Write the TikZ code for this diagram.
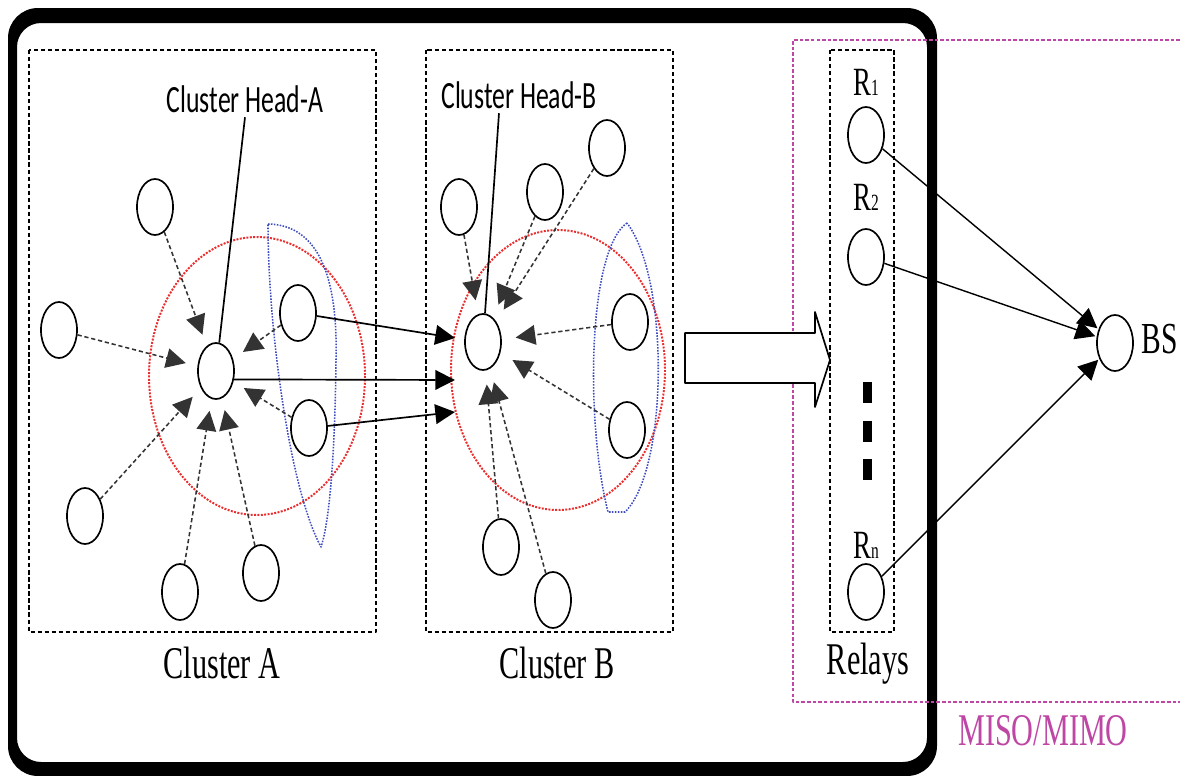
\documentclass[tikz,border=0pt]{standalone}
\usepackage{fontspec}
\setmainfont{Liberation Serif}
\newfontfamily\calibri{Carlito}
\usepackage{graphicx}
\usetikzlibrary{arrows.meta,shapes.geometric}
\definecolor{misoc}{RGB}{190,70,165}
\definecolor{covred}{RGB}{235,45,45}
\definecolor{covblue}{RGB}{60,75,190}
\newcommand{\tallt}[1]{\scalebox{1}[1.5]{#1}}
\newcommand{\rsub}[1]{{\fontsize{11}{11}\selectfont #1}}
\tikzset{
  sensor/.style={draw,ellipse,fill=white,line width=1.2pt,inner sep=0pt,minimum width=0.9cm,minimum height=1.4cm},
  clusterbox/.style={densely dashed,line width=1pt},
  reddot/.style={covred,densely dotted,line width=1.4pt},
  bluedot/.style={covblue,densely dotted,line width=1.1pt},
  member/.style={->,black!80,line width=1.1pt,dash pattern=on 3pt off 2pt},
  link/.style={->,line width=1.2pt},
  serif/.style={anchor=base,font=\fontsize{21.5}{24}\selectfont},
  callout/.style={anchor=base,font=\calibri\fontsize{18.3}{20}\selectfont}
}
\begin{document}
\begin{tikzpicture}[x=0.025cm,y=-0.025cm,line join=round,>={Triangle[length=14pt,width=14pt]}]
\useasboundingbox (0,0) rectangle (1180,776);
% thick outer frame
\fill[even odd rule] [rounded corners=0.75cm] (8,8) rectangle (937,776) [rounded corners=0.6cm] (17,23) rectangle (927,762);
% boxes
\draw[clusterbox] (29,50) rectangle (376,632);
\draw[clusterbox] (426,50) rectangle (673,632);
\draw[clusterbox] (830,50) rectangle (894,632);
\draw[misoc,line width=1pt,dash pattern=on 2.5pt off 1.5pt] (1180,40) -- (793,40) -- (793,702) -- (1180,702);
% coverage areas
\draw[reddot] (257,376) ellipse [x radius=108,y radius=139];
\draw[reddot] (558,370) ellipse [x radius=107,y radius=140];
\draw[bluedot] (268,224) .. controls (320,225) and (338,280) .. (336,360) .. controls (335,450) and (330,520) .. (321,547) .. controls (290,490) and (268,330) .. (268,224);
\draw[bluedot] (627,223) .. controls (588,250) and (585,420) .. (608,512) -- (625,512) .. controls (668,470) and (670,280) .. (627,223);
% sensors
\foreach \n/\x/\y in {CHA/216/371,A1/155/207,A2/59/330,A3/298/313,A4/309/428,A5/85/516,A6/180/592,A7/261/573,
  CHB/483/342,B1/459/207,B2/545/192,B3/607/148,B4/630/322,B5/627/430,B6/501/547,B7/553/600,
  R1/866/135,R2/866/257,Rn/866/592,BS/1115/343}
  \node[sensor] (\n) at (\x,\y) {};
% labels
\node[callout] (lblA) at (245,112) {\tallt{Cluster Head-A}};
\node[callout] (lblB) at (519,108) {\tallt{Cluster Head-B}};
\draw[line width=1.2pt] (lblA.south) -- (CHA);
\draw[line width=1.2pt] ([xshift=-0.5cm]lblB.south) -- (CHB);
\node[serif] (capA) at (222,678) {\tallt{Cluster A}};
\node[serif] (capB) at (557,678) {\tallt{Cluster B}};
\node[serif] (capR) at (868,674) {\tallt{Relays}};
\node[serif,text=misoc] (capM) at (1043,745) {\tallt{MISO/MIMO}};
\node[serif,font=\fontsize{21}{24}\selectfont] (capBS) at (1160,353) {\tallt{BS}};
\foreach \n/\t/\y in {l1/1/95,l2/2/210,ln/n/558}
  \node[serif,font=\fontsize{19}{22}\selectfont] (\n) at (866,\y) {\tallt{R\rsub{\t}}};
% members to heads
\foreach \s in {A1,A2,A3,A4,A5,A6,A7}
  \draw[member,shorten >=0.3cm] (\s) -- (CHA);
\foreach \s in {B1,B2,B3,B4,B5,B6,B7}
  \draw[member,shorten >=0.35cm] (\s) -- (CHB);
% head A to head B
\coordinate (gate1) at (455,338);
\coordinate (gate2) at (455,380);
\coordinate (gate3) at (455,412);
\draw[link] (A3) -- (gate1);
\draw[link] (CHA.-25) -- (gate2);
\draw[link] (A4) -- (gate3);
% hollow arrow to relays
\draw[line width=1.2pt,fill=white] (685,333) -- (815,333) -- (815,312) -- (830,360) -- (815,407) -- (815,383) -- (685,383) -- cycle;
% dots between relays
\draw[line width=6.4pt,dash pattern=on 15pt off 12.5pt] (867,382) -- (867,485);
% relays to BS
\foreach \r in {R1,R2,Rn}
  \draw[link,line width=1pt,shorten >=1pt] (\r) -- (BS);
\end{tikzpicture}
\end{document}
